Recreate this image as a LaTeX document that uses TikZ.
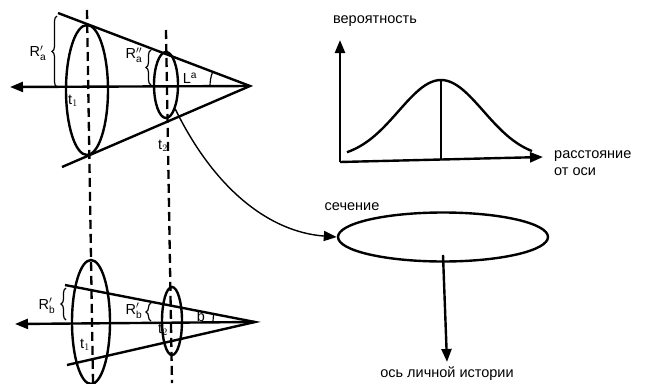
\documentclass[tikz,border=0pt]{standalone}
\usepackage{amsmath}
\usepackage{fontspec}
\setmainfont{Liberation Sans}
\usetikzlibrary{arrows.meta,positioning,calc,decorations.pathreplacing,shapes.geometric}

\begin{document}
\begin{tikzpicture}[x=1pt,y=-1pt,
          cut/.style={line width=2.4pt},
          axis/.style={line width=2.4pt, -{Triangle[length=13pt,width=10pt]}},
          guide/.style={line width=2.3pt, dash pattern=on 9pt off 5pt},
          lens/.style={ellipse, draw, line width=2.4pt, inner sep=0pt},
          rbrace/.style={decorate, decoration={brace, amplitude=5pt}, line width=1.2pt},
          lbl/.style={font=\fontsize{14.5}{17}\selectfont, inner sep=1pt}
        ]
          \useasboundingbox (0,0) rectangle (653,383);

          % Konus a (oben)
          \coordinate (apexA) at (250,86);
          \coordinate (upA) at (58,13);
          \coordinate (loA) at (62,167);
          \coordinate (tipA) at (10,87);
          \draw[cut] (upA) -- (apexA) -- (loA);
          \draw[axis] (apexA) -- (tipA);
          \node[lens, minimum width=42pt, minimum height=130pt] (bigA) at (87,90) {};
          \node[lens, minimum width=24pt, minimum height=66pt] (smallA) at (166,85) {};

          % Konus b (unten)
          \coordinate (apexB) at (255,322);
          \coordinate (upB) at (65,285);
          \coordinate (loB) at (67,365);
          \coordinate (tipB) at (15,324);
          \draw[cut] (upB) -- (apexB) -- (loB);
          \draw[axis] (apexB) -- (tipB);
          \node[lens, minimum width=38pt, minimum height=124pt] (bigB) at (91,322) {};
          \node[lens, minimum width=20pt, minimum height=68pt] (smallB) at (172,321) {};

          % Schnittlinien
          \coordinate (g1top) at (87,10);
          \coordinate (g1bot) at (93,383);
          \coordinate (g2top) at (166,30);
          \coordinate (g2bot) at (172,383);
          \draw[guide] (g1top) -- (g1bot);
          \draw[guide] (g2top) -- (g2bot);

          % Radien
          \draw[rbrace] (57,87) -- (57,16);
          \node[lbl] (Ra1) at (38,53) {R$'_{\text{a}}$};
          \draw[rbrace] (151,85) -- (151,50);
          \node[lbl] (Ra2) at (134,55) {R$''_{\text{a}}$};
          \draw[rbrace] (66,320) -- (66,288);
          \node[lbl] (Rb1) at (47,306) {R$'_{\text{b}}$};
          \draw[rbrace] (151,321) -- (151,303);
          \node[lbl] (Rb2) at (134,311) {R$'_{\text{b}}$};

          % Zeitpunkte
          \node[lbl] (t1a) at (73,101) {t$_1$};
          \node[lbl] (t2a) at (163,146) {t$_2$};
          \node[lbl] (t1b) at (85,345) {t$_1$};
          \node[lbl] (t2b) at (163,330) {t$_2$};

          % Winkel
          \draw[line width=1.2pt] (210,86) arc[start angle=180, end angle=201, radius=40];
          \node[lbl] (angA) at (190,78) {L\textsuperscript{a}};
          \draw[line width=1.2pt] (213,322) arc[start angle=180, end angle=191, radius=42];
          \node[lbl] (angB) at (201,316) {b};

          % Verteilung
          \coordinate (orig) at (340,162);
          \coordinate (ytip) at (340,40);
          \coordinate (xtip) at (543,157);
          \draw[axis] (orig) -- (ytip);
          \draw[axis] (orig) -- (xtip);
          \draw[cut] plot[domain=347:532, samples=60] (\x, {159 - 79*exp(-((\x-441)/60)^2)});
          \coordinate (peak) at (441,80);
          \coordinate (foot) at (441,160);
          \draw[cut] (peak) -- (foot);
          \node[lbl] (ylbl) at (375,21) {вероятность};
          \node[lbl, anchor=west, align=left] (xlbl) at (553,163) {расстояние\\от оси};

          % Schnitt
          \node[lens, minimum width=210pt, minimum height=49pt] (sec) at (443,237) {};
          \node[lbl] (seclbl) at (352,207) {сечение};
          \draw[line width=1.4pt, -{Triangle[length=13pt,width=10pt]}]
            (smallA.south east) .. controls (215,190) and (270,232) .. (sec.west);
          \coordinate (hstart) at (443,255);
          \node[lbl] (hist) at (447,374) {ось личной истории};
          \draw[axis] (hstart) -- ($(hist.north)+(0,-4)$);
        \end{tikzpicture}
\end{document}
